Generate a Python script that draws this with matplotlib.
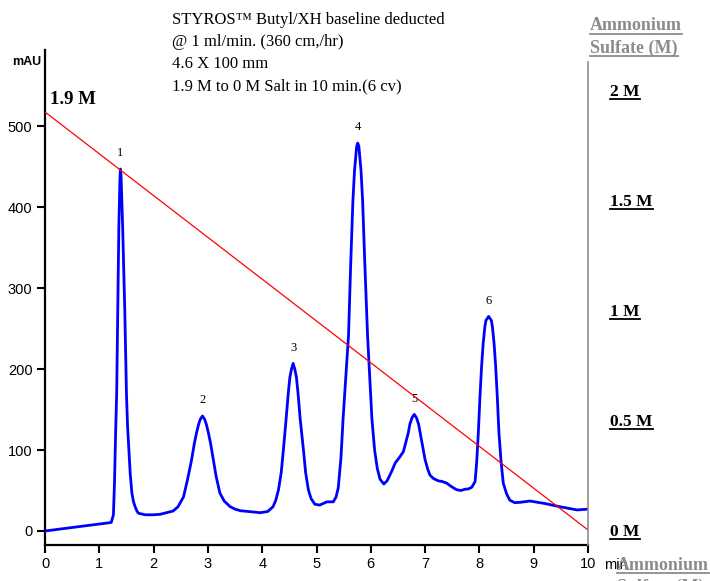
import matplotlib
matplotlib.use("Agg")
import matplotlib.pyplot as plt
from matplotlib.lines import Line2D
from matplotlib.transforms import IdentityTransform

# ---- chromatogram (time in min, absorbance in mAU) ----
time = [0.00, 1.22, 1.26, 1.28, 1.30, 1.32, 1.34, 1.36, 1.38, 1.39, 1.40, 1.42, 1.43,
        1.47, 1.50, 1.52, 1.55, 1.57, 1.60, 1.63, 1.66, 1.69, 1.72, 1.78, 1.85, 1.99,
        2.12, 2.36, 2.45, 2.55, 2.62, 2.70, 2.75, 2.79, 2.83, 2.86, 2.90, 2.94, 2.97,
        3.01, 3.05, 3.10, 3.15, 3.22, 3.30, 3.41, 3.50, 3.60, 3.76, 3.96, 4.10, 4.20,
        4.25, 4.30, 4.35, 4.39, 4.44, 4.48, 4.51, 4.54, 4.57, 4.60, 4.63, 4.66, 4.70,
        4.76, 4.80, 4.85, 4.90, 4.97, 5.06, 5.19, 5.31, 5.36, 5.40, 5.45, 5.49, 5.54,
        5.59, 5.63, 5.67, 5.70, 5.74, 5.76, 5.78, 5.82, 5.85, 5.89, 5.94, 5.98, 6.02,
        6.07, 6.12, 6.17, 6.24, 6.30, 6.38, 6.45, 6.54, 6.60, 6.69, 6.72, 6.76, 6.80,
        6.84, 6.88, 6.91, 6.96, 7.00, 7.05, 7.09, 7.15, 7.24, 7.32, 7.40, 7.48, 7.58,
        7.66, 7.73, 7.80, 7.86, 7.92, 7.95, 7.98, 8.01, 8.04, 8.07, 8.10, 8.12, 8.14,
        8.17, 8.20, 8.22, 8.24, 8.27, 8.30, 8.33, 8.36, 8.40, 8.44, 8.50, 8.56, 8.65,
        8.75, 8.93, 9.20, 9.48, 9.80, 10.00]
mau = [0, 10.5, 20, 60, 120, 170, 270, 376, 435, 447, 440, 400, 376,
       270, 170, 130, 95, 70, 47, 36, 30, 25, 22, 21, 20, 20,
       20.6, 24.7, 30, 42, 62, 88, 108, 121, 132, 138, 142, 138, 132,
       121, 108, 88, 68, 47, 37, 30, 27, 25, 24, 22.6, 24, 30,
       38, 51, 72, 100, 138, 170, 190, 200, 207, 200, 190, 170, 138,
       100, 72, 51, 40, 33, 32, 36, 36, 42, 53, 90, 139, 190,
       242, 330, 407, 445, 475, 479, 475, 445, 407, 330, 242, 190, 139,
       100, 77, 64, 58, 62, 73, 84, 92, 98, 121, 132, 140, 144,
       140, 132, 121, 103, 88, 76, 69, 65, 62, 61, 59, 55, 51,
       50, 51.5, 52, 54, 61, 85, 121, 165, 203, 232, 252, 260, 262,
       265, 262, 260, 252, 232, 203, 165, 121, 85, 59, 46, 38, 35,
       35.4, 37, 34, 30, 26, 27]

# peak numbers and their apex positions
peak_labels = ["1", "2", "3", "4", "5", "6"]
peak_time = [1.39, 2.90, 4.57, 5.76, 6.80, 8.17]
peak_mau = [447, 142, 207, 479, 144, 265]

# salt gradient (M)
salt_time = [0, 10]
salt_conc = [1.9, 0]

x_ticks = [0, 1, 2, 3, 4, 5, 6, 7, 8, 9, 10]
y_ticks = [0, 100, 200, 300, 400, 500]
salt_ticks = [0, 0.5, 1, 1.5, 2]
salt_tick_labels = ["0 M", "0.5 M", "1 M", "1.5 M", "2 M"]

title_lines = ["STYROS\u2122 Butyl/XH baseline deducted",
               "@ 1 ml/min. (360 cm,/hr)",
               "4.6 X 100 mm",
               "1.9 M to 0 M Salt in 10 min.(6 cv)"]

SERIF = "Liberation Serif"
SANS = "Liberation Sans"
GREY = "#8c8c8c"

W, H = 710, 581
fig = plt.figure(figsize=(W / 100, H / 100), dpi=100)
ax = fig.add_axes([45 / W, 36 / H, 543 / W, 495 / H])

ax.plot(time, mau, color="#0000ff", lw=2.0, zorder=3,
        solid_joinstyle="round", solid_capstyle="round")
ax.set_xlim(0, 10)
ax.set_ylim(-17.3, 594)
ax.set_xticks(x_ticks)
ax.set_yticks(y_ticks)
for lab in ax.get_xticklabels() + ax.get_yticklabels():
    lab.set_fontfamily(SANS)
    lab.set_fontsize(10.5)
ax.tick_params(direction="out", length=6, width=1.5, pad=3)
ax.spines["top"].set_visible(False)
ax.spines["right"].set_visible(False)
ax.spines["left"].set_linewidth(1.6)
ax.spines["bottom"].set_linewidth(1.6)

for lab, px, py in zip(peak_labels, peak_time, peak_mau):
    ax.annotate(lab, (px, py), xytext=(0, 7), textcoords="offset points",
                ha="center", va="bottom", fontsize=9, family=SERIF)

# salt axis on the right
ax2 = ax.twinx()
ax2.plot(salt_time, salt_conc, color="red", lw=0.9, zorder=2)
ax2.set_ylim(-15 / 220, 480 / 220)
ax2.set_yticks(salt_ticks)
ax2.set_yticklabels(salt_tick_labels)
ax2.tick_params(axis="y", length=0, pad=16)
for lab in ax2.get_yticklabels():
    lab.set_fontfamily(SERIF)
    lab.set_fontweight("bold")
    lab.set_fontsize(12.5)
for side in ["top", "left", "bottom"]:
    ax2.spines[side].set_visible(False)
ax2.spines["right"].set_color(GREY)
ax2.spines["right"].set_linewidth(1.2)
ax2.spines["right"].set_bounds(-15 / 220, 468 / 220)

# texts
for i, line in enumerate(title_lines):
    fig.text(172 / W, 1 - (20 + 22 * i) / H, line, family=SERIF, fontsize=12,
             ha="left", va="center")
fig.text(50 / W, 1 - 100 / H, "1.9 M", family=SERIF, fontweight="bold",
         fontsize=13.5, ha="left", va="center")
fig.text(12 / W, 1 - 62 / H, "mAU", family=SANS, fontweight="bold",
         fontsize=9, ha="left", va="center")
fig.text(604 / W, 1 - 565 / H, "min", family=SANS, fontsize=10.5,
         ha="left", va="center")

top_names = [fig.text(590 / W, 1 - 26 / H, "Ammonium", family=SERIF, color=GREY,
                      fontweight="bold", fontsize=13, ha="left", va="center"),
             fig.text(590 / W, 1 - 48 / H, "Sulfate (M)", family=SERIF, color=GREY,
                      fontweight="bold", fontsize=13, ha="left", va="center")]
bot_names = [fig.text(617 / W, 1 - 565 / H, "Ammonium", family=SERIF, color=GREY,
                      fontweight="bold", fontsize=13, ha="left", va="center"),
             fig.text(617 / W, 1 - 587 / H, "Sulfate (M)", family=SERIF, color=GREY,
                      fontweight="bold", fontsize=13, ha="left", va="center")]

# underline the bold labels
fig.canvas.draw()
renderer = fig.canvas.get_renderer()


def underline(txt, color):
    bb = txt.get_window_extent(renderer)
    fig.add_artist(Line2D([bb.x0, bb.x1], [bb.y0 + 1, bb.y0 + 1], color=color,
                          lw=1.3, transform=IdentityTransform()))


for t in top_names + bot_names:
    underline(t, GREY)
for t in ax2.get_yticklabels():
    underline(t, "black")

fig.savefig("out.png", dpi=100)
